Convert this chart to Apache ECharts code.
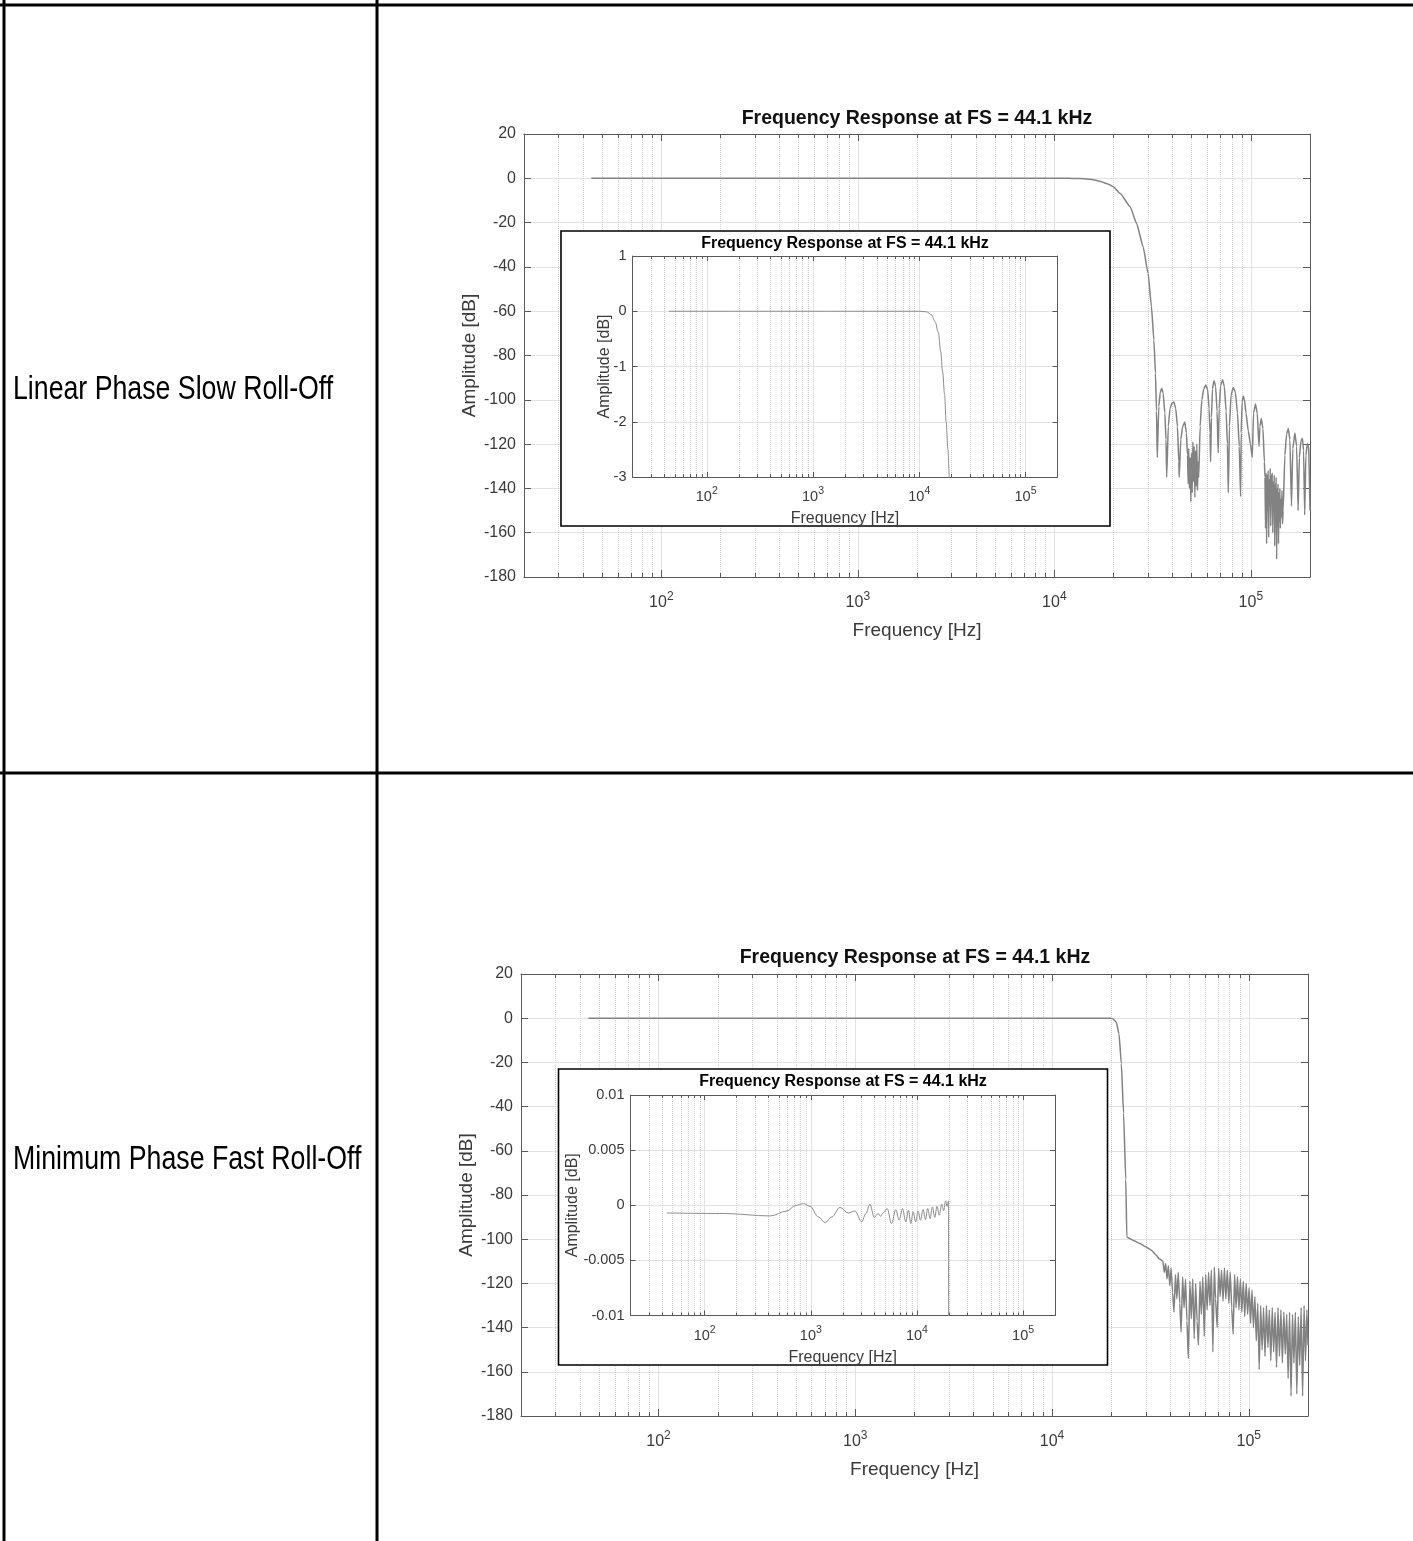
<!DOCTYPE html>
<html><head><meta charset="utf-8">
<script src="https://cdn.jsdelivr.net/npm/echarts@6/dist/echarts.min.js"></script>
<style>html,body{margin:0;padding:0;background:#fff}#c{width:1413px;height:1541px}</style>
</head><body><div id="c"></div>
<script>
// ---------------- DATA ----------------
const rowLabels = ['Linear Phase Slow Roll-Off', 'Minimum Phase Fast Roll-Off'];
const chartTitle = 'Frequency Response at FS = 44.1 kHz';
const xAxisName = 'Frequency [Hz]';
const yAxisName = 'Amplitude [dB]';
const freqRange = [20, 200000];
const mainYRange = [-180, 20, 20];          // min, max, step
const insetSlowYRange = [-3, 1, 1];
const insetFastYRange = [-0.01, 0.01, 0.005];

// Linear phase slow roll-off (Hz, dB)
const slowFreq = [44,100,1000,5000,10000,11700,13100,14100,15100,15900,16600,17300,17900,18600,19200,20000,21600,24300,26200,28300,30000,31200,32100,32700,33100,33400,
34000,34600,35200,35800,36500,37000,37300,
38000,38800,39700,40600,41500,42300,43000,43200,
44000,45000,46100,47000,47600,48000,48300,48700,49100,49500,49900,50300,50700,51100,51500,51900,52300,52700,53100,53500,53900,
54300,55200,56300,57600,59000,60300,61300,62000,62400,
63000,63800,65000,66200,67300,68200,
69000,70200,71800,73300,74800,76000,76800,
77800,79300,81300,83400,85500,87300,88700,
89300,90300,91400,92800,94500,97000,99500,101700,
103200,105600,107800,110000,
111200,113000,115200,117200,
118000,118800,119500,120300,121000,121800,122500,123300,124000,124800,125500,126300,127000,127800,128500,129300,130000,130800,131500,132300,133000,133800,134500,135300,136000,136800,137500,138300,139000,139800,140500,141300,142000,143000,144000,145000,
146000,149000,152000,155000,158000,161000,
163500,167500,171000,174000,
176500,180000,183000,185500,188000,
190500,194000,197000,200000];
const slowDb = [0,0,0,0,0,-0.01,-0.07,-0.19,-0.38,-0.72,-1.1,-1.5,-2.0,-2.5,-3.0,-3.9,-6.8,-12.8,-20.3,-30.9,-42.9,-58,-73,-88,-105,-126,
-103,-96.5,-94.8,-97,-106,-118,-135,
-112,-104,-101.5,-101,-104,-112,-128,-135,
-118,-112,-110,-115,-125,-138,-122,-140,-126,-146,-124,-142,-119,-137,-121,-144,-123,-139,-120,-141,-128,
-135,-112,-100,-95,-93.3,-95.5,-104,-115,-128,
-108,-95,-91.4,-94,-105,-124,
-104,-93.5,-91,-94,-105,-120,-142,
-112,-98,-94.4,-96.5,-106,-121,-143.7,
-115,-101,-98.3,-100,-106,-114,-120,-126,
-106,-101.9,-106,-121,
-112,-108.4,-113,-128,
-135,-158,-133,-165,-134,-150,-132,-162,-136,-148,-131,-157,-134,-145,-133,-160,-137,-150,-134,-166,-138,-152,-135,-172,-140,-150,-138,-165,-142,-155,-140,-158,-145,-153,-141,-156,
-150,-125,-115.5,-113,-118,-148,
-122,-115,-121,-150,
-126,-118.5,-117.4,-123,-152,
-125,-119.7,-122,-150];

// Minimum phase fast roll-off (Hz, dB)
const fastFreq = [44,151,415,596,713,853,985,1178,1362,1574,1884,2256,2606,3013,3306,3604,3956,4315,4540,4806,5240,5763,6324,6793,7310,7851,8318,8750,9200,9750,10250,10800,11430,12030,12640,13300,14000,14720,15460,16250,17100,17850,18620,19230,19860,
20000,20400,21200,21900,22500,23100,23700,24000,25800,28000,30100,32000,33900,35200,
36600,37200,37800,38400,39000,39700,40300,41000,41700,42400,43100,43800,44600,45300,46100,46900,47700,48500,49300,50200,51000,51900,52800,53700,54600,55500,56500,57400,58400,59400,60400,61400,62500,63500,64600,65700,66800,67800,69100,70300,71500,72700,74000,75200,76500,77800,79200,80500,81900,83300,84700,86200,87600,89100,90700,92200,93800,95400,97000,98700,100400,102100,103800,105600,107400,109200,111100,113000,114900,116900,118900,120900,123000,125100,127200,129400,131600,133800,136100,138400,140800,143200,145700,148200,150700,153300,155900,158500,161200,164000,166800,169600,172500,175500,178500,181500,184600,187800,191000,194200,197500,200000];
const fastDb = [-0.0007,-0.00075,-0.00097,-0.00052,-0.00003,0.00015,-0.0001,-0.00106,-0.00157,-0.00106,-0.0002,-0.0007,-0.00052,-0.0015,-0.00075,0.0001,-0.0011,-0.00075,-0.001,-0.0007,-0.0003,-0.00166,-0.0004,-0.00136,-0.0003,-0.0015,-0.00045,-0.00166,-0.0006,-0.0015,-0.00052,-0.00136,-0.0004,-0.0013,-0.0003,-0.0012,-0.00015,-0.0011,-0.0001,-0.0009,0.0001,-0.0005,0.0004,-0.0001,0.0004,
-0.05,-0.4,-1.7,-7,-20.5,-43,-73,-99,-100.5,-102,-103.5,-105,-107.3,-109,
-110,-115,-111,-118,-112,-121,-113,-124,-133,-116,-127,-115,-129,-142,-117,-131,-118,-137,-154,-119,-136,-118,-145,-120,-137,-148,-119,-134,-117,-144,-116,-132,-115,-130,-114,-151,-112.6,-127,-140,-113,-126,-114,-128,-113,-127,-114,-129,-115,-131,-143,-116,-131,-117,-132,-118,-133,-119,-135,-120,-134,-122,-138,-123,-140,-126,-146,-129,-159,-130,-150,-131,-153,-130,-149,-132,-155,-131,-151,-133,-158,-131,-153,-132,-156,-133,-152,-134,-163,-133,-171,-134,-156,-133,-170,-135,-157,-131,-171,-130,-155,-132,-148];

// ---------------- LAYOUT / STYLE ----------------
const FONT = "'Liberation Sans', Arial, Helvetica, sans-serif";
const panels = [
  { main: {left: 524, top: 134, width: 786, height: 443}, box: {x: 561, y: 231, w: 549, h: 295},
    inset: {left: 632.5, top: 256, width: 425, height: 221}, title: [917, 119], insetTitle: [845, 244],
    freq: slowFreq, db: slowDb, insetY: insetSlowYRange, labelY: 390, insetNameGap: 20 },
  { main: {left: 521, top: 974, width: 787, height: 442}, box: {x: 558.5, y: 1069, w: 549, h: 296},
    inset: {left: 630.5, top: 1095, width: 424.5, height: 220.5}, title: [915, 958], insetTitle: [843, 1082],
    freq: fastFreq, db: fastDb, insetY: insetFastYRange, labelY: 1160, insetNameGap: 50 }
];

function hasFont(name) {
  const c = document.createElement('canvas').getContext('2d');
  const t = 'Linear Phase Slow Roll-Off';
  c.font = '32px monospace'; const w1 = c.measureText(t).width;
  c.font = '32px "' + name + '", monospace'; const w2 = c.measureText(t).width;
  return Math.abs(w1 - w2) > 0.5;
}
const narrowOK = hasFont('Liberation Sans Narrow');

function powLabel(v) {
  const e = Math.log10(v), r = Math.round(e);
  if (Math.abs(e - r) < 1e-6) return '{b|10}{s|' + r + '}';
  return '';
}
function numLabel(v) { const n = +(+v).toFixed(4); return n === 0 ? '0' : String(n); }

const AX = '#595959', TXT = '#3a3a3a', GRID = '#e2e2e2', MINOR = '#d2d2d2';

const grids = [], xAxes = [], yAxes = [], series = [], graphics = [];

function addPlot(rect, isInset, yr, freq, db, yNameGap) {
  const gi = grids.length;
  grids.push(Object.assign({show: false, containLabel: false}, rect));
  const z = isInset ? 20 : 0;
  const tickLen = isInset ? 5 : 7, minorLen = isInset ? 3 : 4;
  const fs = isInset ? 14.5 : 16, nameFs = isInset ? 16 : 19;
  const xi = xAxes.length;
  xAxes.push({
    type: 'log', logBase: 10, gridIndex: gi, min: freqRange[0], max: freqRange[1], position: 'bottom', z,
    axisLine: {show: true, onZero: false, lineStyle: {color: AX, width: 1}},
    axisTick: {show: true, inside: true, length: tickLen, lineStyle: {color: AX}},
    minorTick: {show: true, splitNumber: 9, length: minorLen, lineStyle: {color: AX}},
    axisLabel: {formatter: powLabel, margin: isInset ? 9 : 14, rich: {
      b: {fontSize: fs, color: TXT, fontFamily: FONT, lineHeight: isInset ? 22 : 24},
      s: {fontSize: isInset ? 10.5 : 12, color: TXT, fontFamily: FONT, verticalAlign: 'top', lineHeight: isInset ? 10 : 12}}},
    splitLine: {show: true, lineStyle: {color: GRID, width: 1}},
    minorSplitLine: {show: true, lineStyle: {color: MINOR, width: 1, type: 'dotted'}},
    name: xAxisName, nameLocation: 'middle', nameGap: isInset ? 34 : 44, nameMoveOverlap: false,
    nameTextStyle: {fontSize: nameFs, color: TXT, fontFamily: FONT}
  });
  xAxes.push({
    type: 'log', logBase: 10, gridIndex: gi, min: freqRange[0], max: freqRange[1], position: 'top', z,
    axisLine: {show: true, onZero: false, lineStyle: {color: AX, width: 1}},
    axisTick: {show: true, inside: true, length: tickLen, lineStyle: {color: AX}},
    minorTick: {show: true, splitNumber: 9, length: minorLen, lineStyle: {color: AX}},
    axisLabel: {show: false}, splitLine: {show: false}
  });
  const yi = yAxes.length;
  yAxes.push({
    type: 'value', gridIndex: gi, min: yr[0], max: yr[1], interval: yr[2], position: 'left', z,
    axisLine: {show: true, onZero: false, lineStyle: {color: AX, width: 1}},
    axisTick: {show: true, inside: true, length: tickLen, lineStyle: {color: AX}},
    axisLabel: {formatter: numLabel, margin: isInset ? 6 : 8, fontSize: fs, color: TXT, fontFamily: FONT},
    splitLine: {show: true, lineStyle: {color: GRID, width: 1}},
    name: yAxisName, nameLocation: 'middle', nameGap: yNameGap, nameMoveOverlap: false,
    nameTextStyle: {fontSize: nameFs, color: TXT, fontFamily: FONT}
  });
  yAxes.push({
    type: 'value', gridIndex: gi, min: yr[0], max: yr[1], interval: yr[2], position: 'right', z,
    axisLine: {show: true, onZero: false, lineStyle: {color: AX, width: 1}},
    axisTick: {show: true, inside: true, length: tickLen, lineStyle: {color: AX}},
    axisLabel: {show: false}, splitLine: {show: false}
  });
  series.push({
    type: 'line', xAxisIndex: xi, yAxisIndex: yi, data: freq.map((f, i) => [f, db[i]]),
    showSymbol: false, symbol: 'none', clip: true, animation: false, z: isInset ? 21 : 2,
    smooth: isInset ? 0.35 : 0.15, smoothMonotone: 'x',
    lineStyle: {color: isInset ? '#8c8c8c' : '#828282', width: isInset ? 1 : 1.5}
  });
}

panels.forEach((p, k) => {
  addPlot(p.main, false, mainYRange, p.freq, p.db, 45);
  addPlot(p.inset, true, p.insetY, p.freq, p.db, p.insetNameGap);
  graphics.push({type: 'rect', z: 10, shape: {x: p.box.x, y: p.box.y, width: p.box.w, height: p.box.h},
    style: {fill: '#fff', stroke: '#000', lineWidth: 1.6}});
  graphics.push({type: 'text', z: 30, x: p.title[0], y: p.title[1],
    style: {text: chartTitle, fontSize: 19.5, fontWeight: 'bold', fontFamily: FONT, fill: '#111', align: 'center', verticalAlign: 'middle'}});
  graphics.push({type: 'text', z: 30, x: p.insetTitle[0], y: p.insetTitle[1],
    style: {text: chartTitle, fontSize: 16, fontWeight: 'bold', fontFamily: FONT, fill: '#000', align: 'center', verticalAlign: 'middle'}});
  graphics.push({type: 'text', z: 30, x: 13, y: p.labelY, scaleX: narrowOK ? 1 : 0.82,
    style: {text: rowLabels[k], fontSize: 32.6, fontFamily: narrowOK ? "'Liberation Sans Narrow'" : FONT, fill: '#000', align: 'left', verticalAlign: 'middle'}});
});

// table borders
const lines = [[0, 5, 1413, 5], [4, 0, 4, 1541], [377, 0, 377, 1541], [0, 773, 1413, 773]];
lines.forEach(l => graphics.push({type: 'line', z: 30, shape: {x1: l[0], y1: l[1], x2: l[2], y2: l[3]}, style: {stroke: '#000', lineWidth: 3}}));

const chart = echarts.init(document.getElementById('c'), null, {renderer: 'canvas'});
chart.setOption({
  animation: false, backgroundColor: '#fff',
  grid: grids, xAxis: xAxes, yAxis: yAxes, series, graphic: graphics
});
</script></body></html>
